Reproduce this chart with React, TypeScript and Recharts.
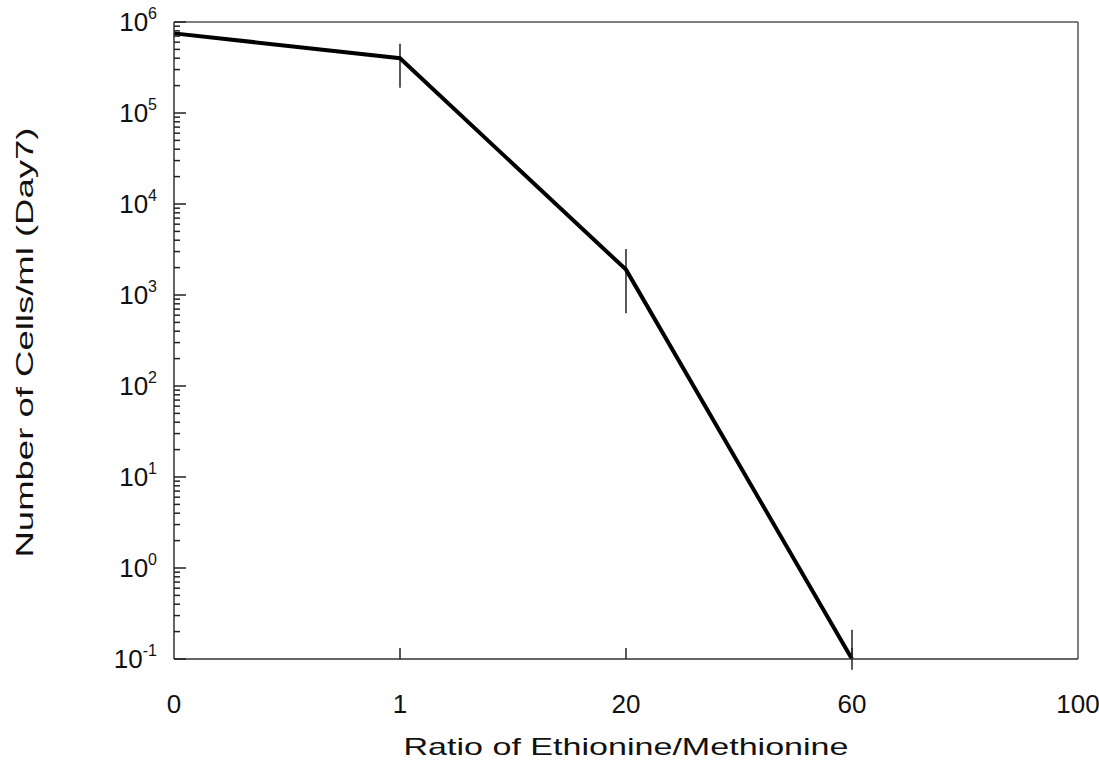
import React from 'react';
import { LineChart, Line, XAxis, YAxis, ErrorBar, ReferenceLine } from 'recharts';

// x categories (evenly spaced on the axis)
const ratioLabels = ['0', '1', '20', '60', '100'];
const ratioIndex = [0, 1, 2, 3];

// cells/ml on day 7
const cellsPerMl = [7.5e5, 4.0e5, 1.9e3, 0.1];
const errLow = [0, 2.1e5, 1.27e3, 0.024];
const errHigh = [0, 1.75e5, 1.3e3, 0.11];

const decadeTicks = [0.1, 1, 10, 100, 1e3, 1e4, 1e5, 1e6];
const decadeExponents = ['-1', '0', '1', '2', '3', '4', '5', '6'];
const minorMultipliers = [2, 3, 4, 5, 6, 7, 8, 9];

const FONT = '"Liberation Sans", Arial, Helvetica, sans-serif';
const Y_TICK_MARGIN = 17;

const data = ratioIndex.map((x, i) => ({
  x,
  cells: cellsPerMl[i],
  err: [errLow[i], errHigh[i]],
}));

const yTicks = [
  ...decadeTicks,
  ...decadeTicks.slice(0, -1).flatMap((d) => minorMultipliers.map((m) => d * m)),
];

const YTick = (props: any) => {
  const { x, y, payload } = props;
  const v = payload.value;
  const axisX = x + Y_TICK_MARGIN;
  const idx = decadeTicks.findIndex((d) => Math.abs(d - v) / d < 1e-6);
  const major = idx >= 0;
  return (
    <g>
      <line x1={axisX} x2={axisX + (major ? 12 : 6)} y1={y} y2={y} stroke="#222" strokeWidth={1.5} />
      {major && (
        <text x={x} y={y + 9} textAnchor="end" fontSize={26} fontFamily={FONT} fill="#111">
          10
          <tspan dy={-12} fontSize={16}>{decadeExponents[idx]}</tspan>
        </text>
      )}
    </g>
  );
};

const XTick = (props: any) => {
  const { x, y, payload } = props;
  const i = payload.value;
  const inner = i > 0 && i < ratioLabels.length - 1;
  return (
    <g>
      {inner && <line x1={x} x2={x} y1={y} y2={y - 11} stroke="#222" strokeWidth={1.5} />}
      <text x={x} y={y + 54} textAnchor="middle" fontSize={26} fontFamily={FONT} fill="#111">
        {ratioLabels[i]}
      </text>
    </g>
  );
};

export default function App() {
  return (
    <div style={{ position: 'absolute', left: 0, top: 0, width: 1099, height: 763, background: '#fff' }}>
      <LineChart width={1099} height={763} data={data} margin={{ top: 22, right: 21, bottom: 44, left: 74 }}>
        <XAxis
          dataKey="x"
          type="number"
          domain={[0, 4]}
          ticks={[0, 1, 2, 3, 4]}
          tickSize={0}
          tickMargin={0}
          tick={<XTick />}
          height={60}
          stroke="#333"
          strokeWidth={1.5}
          label={{
            content: (p: any) => (
              <text
                x={p.viewBox.x + p.viewBox.width / 2}
                y={p.viewBox.y + 96}
                textAnchor="middle"
                fontSize={24}
                fontFamily={FONT}
                fill="#111"
                textLength={445}
                lengthAdjust="spacingAndGlyphs"
              >
                Ratio of Ethionine/Methionine
              </text>
            ),
          }}
        />
        <YAxis
          scale="log"
          type="number"
          domain={[0.1, 1e6]}
          allowDataOverflow
          ticks={yTicks}
          interval={0}
          tickSize={0}
          tickMargin={Y_TICK_MARGIN}
          tick={<YTick />}
          width={100}
          stroke="#333"
          strokeWidth={1.5}
          label={{
            content: (p: any) => {
              const cx = p.viewBox.x - 50;
              const cy = p.viewBox.y + p.viewBox.height / 2 + 2;
              return (
                <text
                  x={cx}
                  y={cy}
                  transform={`rotate(-90 ${cx} ${cy})`}
                  textAnchor="middle"
                  dominantBaseline="central"
                  fontSize={24}
                  fontFamily={FONT}
                  fill="#111"
                  textLength={430}
                  lengthAdjust="spacingAndGlyphs"
                >
                  Number of Cells/ml (Day7)
                </text>
              );
            },
          }}
        />
        <ReferenceLine y={1e6} stroke="#555" strokeWidth={1.5} />
        <ReferenceLine x={4} stroke="#555" strokeWidth={1.5} />
        <Line
          type="linear"
          dataKey="cells"
          stroke="#000"
          strokeWidth={4}
          dot={false}
          isAnimationActive={false}
        >
          <ErrorBar dataKey="err" direction="y" width={0} stroke="#222" strokeWidth={1.5} />
        </Line>
      </LineChart>
    </div>
  );
}
